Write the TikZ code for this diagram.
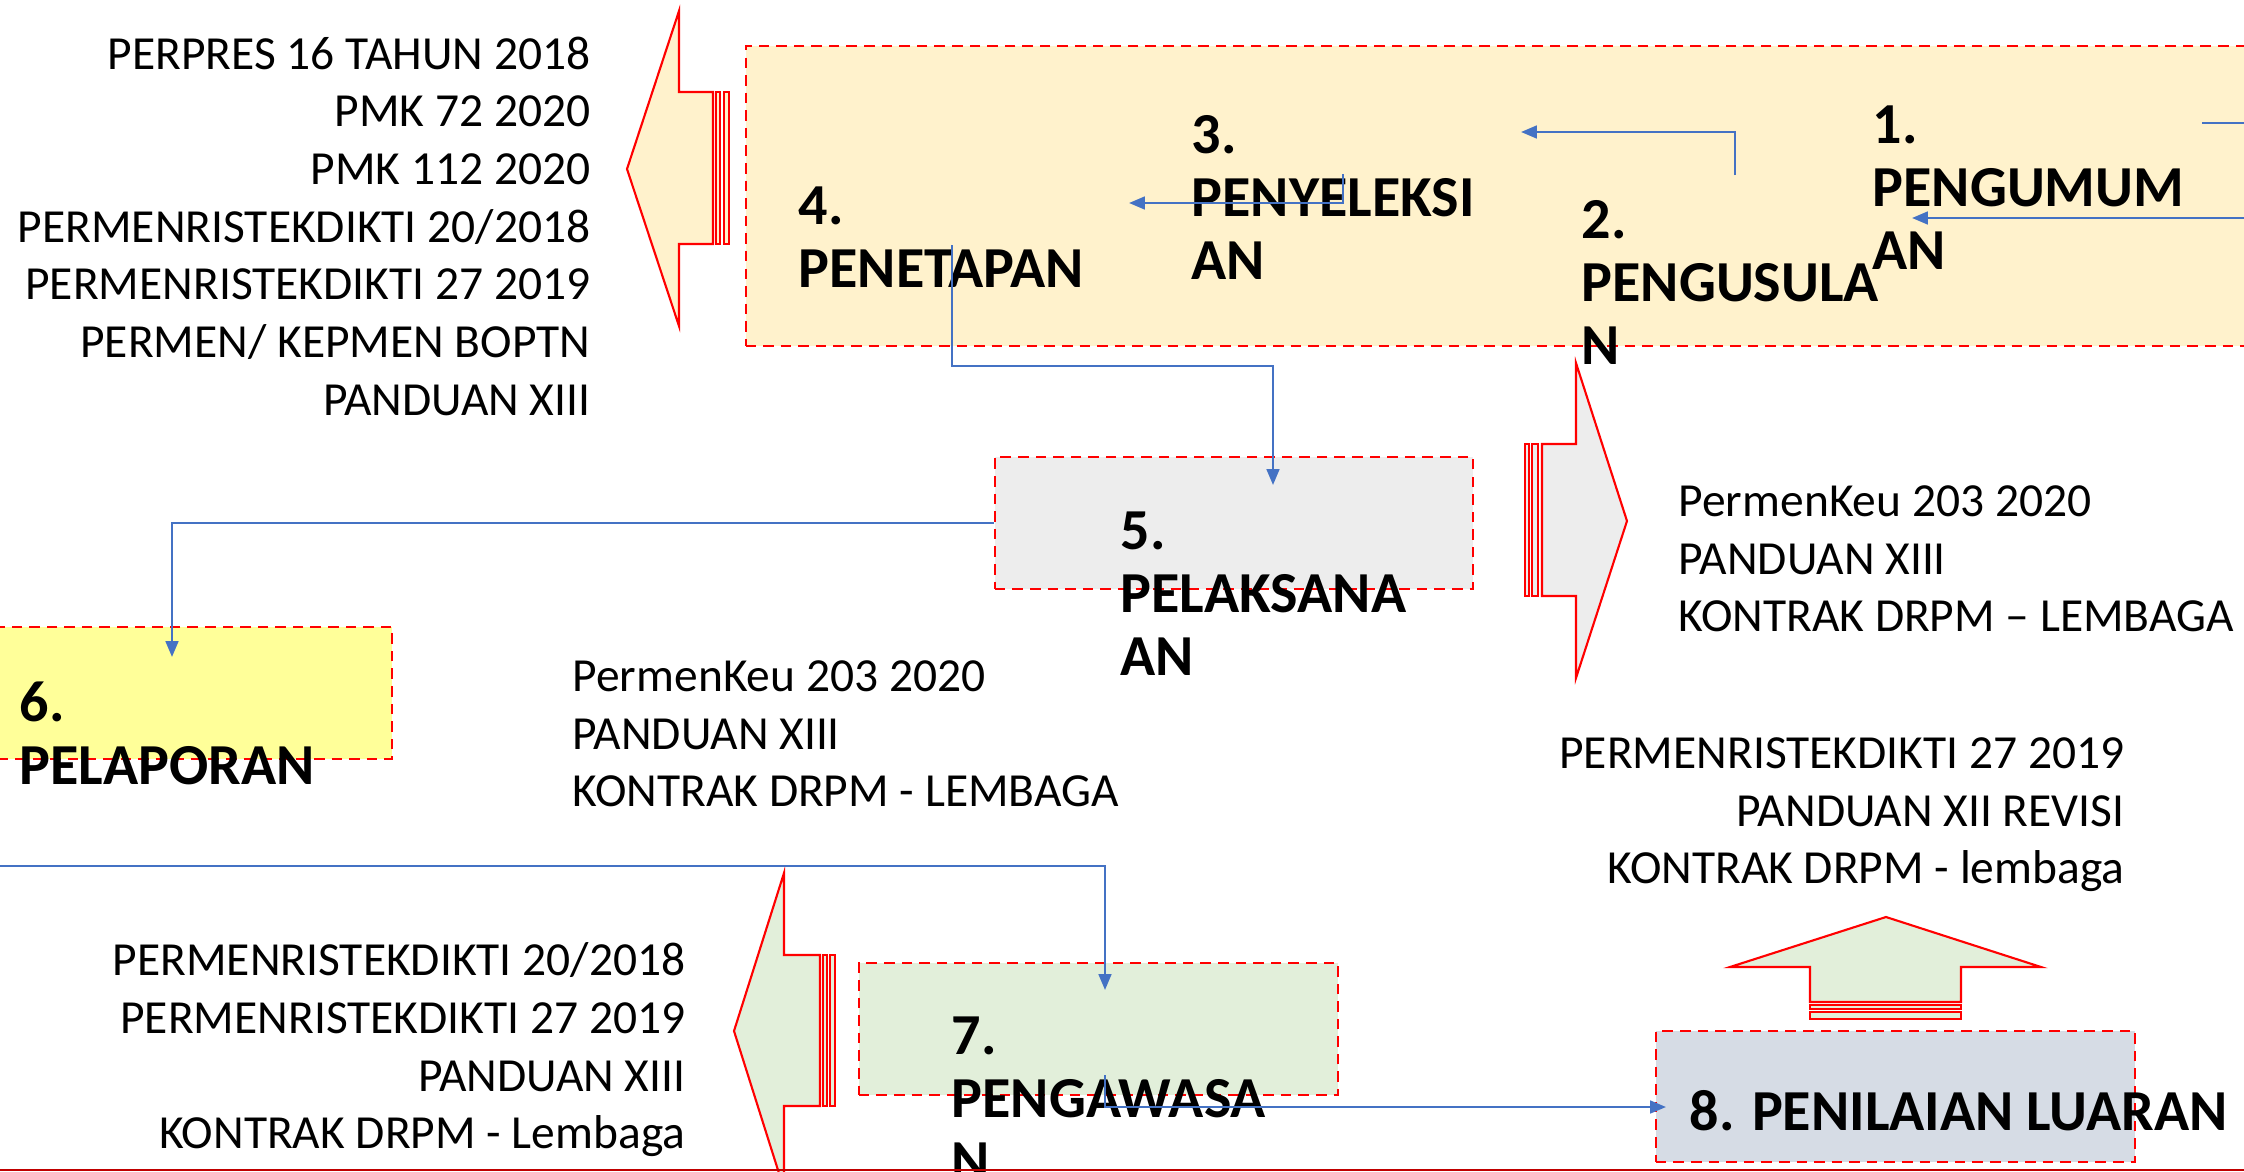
\documentclass[tikz,border=0pt]{standalone}
\usepackage{fontspec}
\setmainfont{Carlito}
\usetikzlibrary{arrows.meta}

\definecolor{merah}{HTML}{FF0000}
\definecolor{merahtua}{HTML}{C00000}
\definecolor{biru}{HTML}{4472C4}
\definecolor{krem}{HTML}{FFF2CC}
\definecolor{abu}{HTML}{EDEDED}
\definecolor{kuning}{HTML}{FFFF99}
\definecolor{hijau}{HTML}{E2EFDA}
\definecolor{biruabu}{HTML}{D6DCE5}

\begin{document}
\begin{tikzpicture}[x=0.01cm, y=-0.01cm,
    procbox/.style={draw=merah, line width=0.6pt, dash pattern=on 3pt off 2pt, inner sep=0pt},
    tahap/.style={anchor=north west, align=left, inner sep=0pt, font=\fontsize{16.5}{17.9}\selectfont\bfseries},
    dasar/.style={inner sep=0pt, font=\fontsize{13.5}{16.4}\selectfont},
    alur/.style={draw=biru, line width=0.7pt, -{Triangle[length=4.5pt,width=3.6pt]}},
    panah/.style={draw=merah, line width=0.6pt, line join=miter}]
	\clip (0,0) rectangle (2244,1172);
	
	% kotak tahap
	\node[procbox, fill=krem, minimum width=15.4cm, minimum height=3cm] (atas) at (1516,196) {};
	\node[procbox, fill=abu, minimum width=4.78cm, minimum height=1.32cm] (laksana) at (1234,523) {};
	\node[procbox, fill=kuning, minimum width=4.12cm, minimum height=1.32cm] (lapor) at (186,693) {};
	\node[procbox, fill=hijau, minimum width=4.79cm, minimum height=1.32cm] (awas) at (1098.5,1029) {};
	\node[procbox, fill=biruabu, minimum width=4.79cm, minimum height=1.31cm] (luaran) at (1895.5,1096.5) {};
	
	% panah dasar hukum
	\draw[panah, fill=krem] (627,169) -- (679,11) -- (679,92) -- (713,92) -- (713,244) -- (679,244) -- (679,326) -- cycle;
	\draw[panah, fill=krem] (716,92) rectangle (720,244);
	\draw[panah, fill=krem] (724,92) rectangle (729,244);
	
	\draw[panah, fill=abu] (1627,521) -- (1576,363) -- (1576,444) -- (1542,444) -- (1542,596) -- (1576,596) -- (1576,678) -- cycle;
	\draw[panah, fill=abu] (1525,444) rectangle (1529,596);
	\draw[panah, fill=abu] (1532,444) rectangle (1538,596);
	
	\draw[panah, fill=hijau] (734,1031) -- (784,873) -- (784,955) -- (820,955) -- (820,1106) -- (784,1106) -- (784,1189) -- cycle;
	\draw[panah, fill=hijau] (823,955) rectangle (827,1106);
	\draw[panah, fill=hijau] (830,955) rectangle (835,1106);
	
	\draw[panah, fill=hijau] (1886,917) -- (2041,967) -- (1961,967) -- (1961,1002) -- (1810,1002) -- (1810,967) -- (1730,967) -- cycle;
	\draw[panah, fill=hijau] (1810,1005) rectangle (1961,1009);
	\draw[panah, fill=hijau] (1810,1012) rectangle (1961,1019);
	
	% label tahap
	\node[tahap] (t1) at (1872,105) {1.\\PENGUMUM\\AN};
	\node[tahap] (t2) at (1581,200) {2.\\PENGUSULA\\N};
	\node[tahap] (t3) at (1191,115) {3.\\PENYELEKSI\\AN};
	\node[tahap] (t4) at (798,186) {4.\\PENETAPAN};
	\node[tahap] (t5) at (1120,511) {5.\\PELAKSANA\\AN};
	\node[tahap] (t6) at (19,681) {6.\\PELAPORAN};
	\node[tahap] (t7) at (951,1016) {7.\\PENGAWASA\\N};
	\node[tahap] (t8) at (1689,1090) {8. PENILAIAN LUARAN};
	
	% dasar hukum
	\node[dasar, anchor=north east, align=right] (dtetap) at (591,36) {PERPRES 16 TAHUN 2018\\PMK 72 2020\\PMK 112 2020\\PERMENRISTEKDIKTI 20/2018\\PERMENRISTEKDIKTI 27 2019\\PERMEN/ KEPMEN BOPTN\\PANDUAN XIII};
	\node[dasar, anchor=north west, align=left] (dlaksana) at (1678,485) {PermenKeu 203 2020\\PANDUAN XIII\\KONTRAK DRPM -- LEMBAGA};
	\node[dasar, anchor=north west, align=left] (dlapor) at (572,660) {PermenKeu 203 2020\\PANDUAN XIII\\KONTRAK DRPM - LEMBAGA};
	\node[dasar, anchor=north east, align=right] (dluaran) at (2125,737) {PERMENRISTEKDIKTI 27 2019\\PANDUAN XII REVISI\\KONTRAK DRPM - lembaga};
	\node[dasar, anchor=north east, align=right] (dawas) at (686,942) {PERMENRISTEKDIKTI 20/2018\\PERMENRISTEKDIKTI 27 2019\\PANDUAN XIII\\KONTRAK DRPM - Lembaga};
	
	% alur
	\coordinate (masuk1) at (2260,218);
	\coordinate (ujung1) at (1912,218);
	\coordinate (keluar0) at (2202,123);
	\coordinate (keluar1) at (2260,123);
	\coordinate (dari2) at (1735,175);
	\coordinate (ke3) at (1521,132);
	\coordinate (dari3) at (1343,174);
	\coordinate (ke4) at (1129,203);
	\coordinate (dari4) at (952,245);
	\coordinate (ke5) at (1273,485);
	\coordinate (ke6) at (172,657);
	\coordinate (masuk7) at (-10,866);
	\coordinate (ke7) at (1105,990);
	\coordinate (dari7) at (1105,1075);
	\coordinate (ke8) at (1666,1107);
	
	\draw[alur] (masuk1) -- (ujung1);
	\draw[alur, -] (keluar0) -- (keluar1);
	\draw[alur] (dari2) |- (ke3);
	\draw[alur] (dari3) |- (ke4);
	\draw[alur] (dari4) -- ++(0,121) -| (ke5);
	\draw[alur] (laksana.west) -| (ke6);
	\draw[alur] (masuk7) -| (ke7);
	\draw[alur] (dari7) |- (ke8);
	
	\draw[merahtua, line width=0.6pt] (0,1170) -- (2244,1170);
\end{tikzpicture}
\end{document}
